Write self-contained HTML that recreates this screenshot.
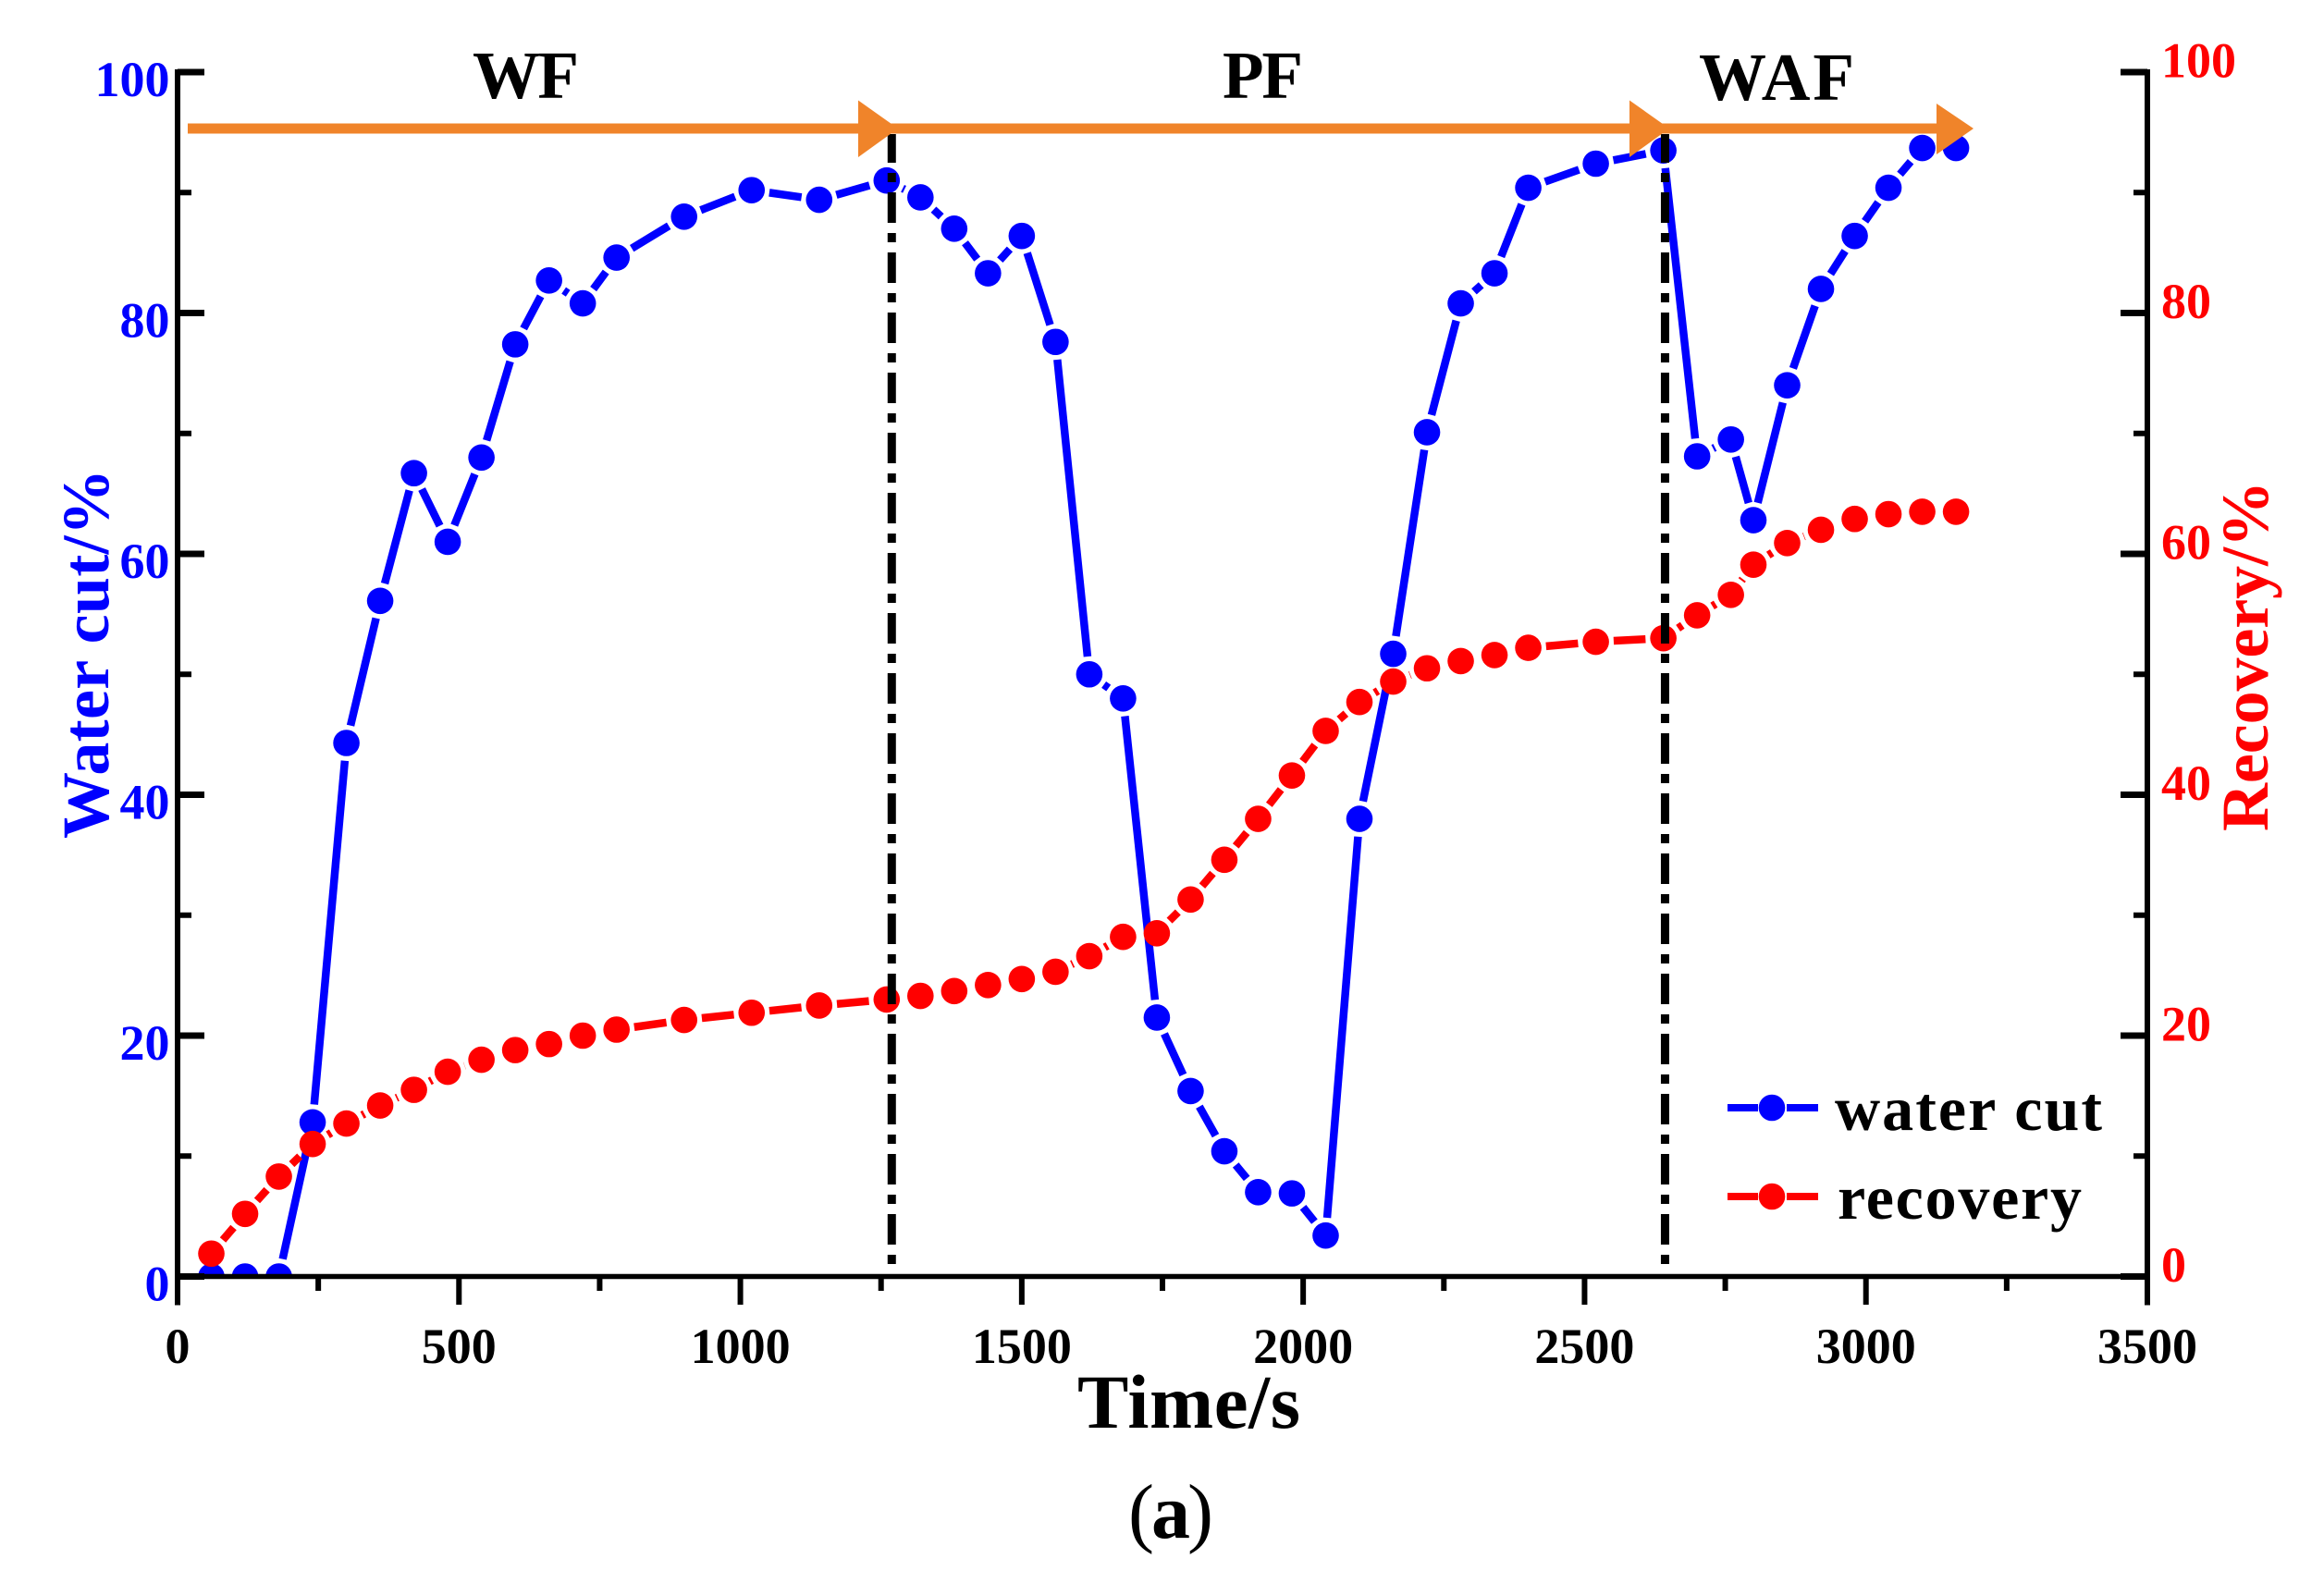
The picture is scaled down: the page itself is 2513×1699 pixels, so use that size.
<!DOCTYPE html>
<html lang="en">
<head>
<meta charset="utf-8">
<title>Water cut and recovery vs time</title>
<style>
html,body{margin:0;padding:0;background:#fff;}
svg{display:block;}
text{font-family:"Liberation Serif",serif;font-weight:bold;}
</style>
</head>
<body>
<svg id="chart" xmlns="http://www.w3.org/2000/svg" width="2513" height="1699" viewBox="0 0 2513 1699">
  <defs><clipPath id="plot-clip"><rect x="191" y="60" width="2132" height="1320"/></clipPath></defs>
  <rect x="0" y="0" width="2513" height="1699" fill="#fff"/>
  <g id="grid-layer"></g>
  <g id="series-layer" clip-path="url(#plot-clip)"></g>
  <g id="overlay-layer"></g>
  <g id="axis-layer"></g>
  <text x="511" y="106" font-size="73" textLength="115" fill="#000">WF</text>
  <text x="1322" y="106" font-size="73" textLength="87" fill="#000">PF</text>
  <text x="1837" y="108" font-size="73" textLength="168" fill="#000">WAF</text>
  <text x="1165" y="1544" font-size="83" textLength="241" fill="#000">Time/s</text>
  <text x="1264.5" y="1663" font-size="84" text-anchor="middle" letter-spacing="-3" fill="#000"><tspan font-weight="normal">(</tspan>a<tspan font-weight="normal">)</tspan></text>
  <text transform="translate(117,907) rotate(-90)" font-size="72" textLength="400" fill="#0000ff">Water cut/%</text>
  <text transform="translate(2452,899) rotate(-90)" font-size="72" textLength="379" fill="#ff0000">Recovery/%</text>
  <g id="legend-layer">
    <g>
      <rect x="1868" y="1194" width="33" height="8" fill="#0000ff"/>
      <rect x="1932" y="1194" width="34" height="8" fill="#0000ff"/>
      <circle cx="1916" cy="1198" r="14.3" fill="#0000ff"/>
      <text x="1984" y="1222" font-size="68" textLength="289" lengthAdjust="spacing" fill="#000">water cut</text>
    </g>
    <g>
      <rect x="1868" y="1290" width="33" height="8" fill="#ff0000"/>
      <rect x="1932" y="1290" width="34" height="8" fill="#ff0000"/>
      <circle cx="1916" cy="1294" r="14.3" fill="#ff0000"/>
      <text x="1987" y="1318" font-size="68" textLength="264" lengthAdjust="spacing" fill="#000">recovery</text>
    </g>
  </g>
</svg>
<script>
const timeValues = [60,120,180,240,300,360,420,480,540,600,660,720,780,900,1020,1140,1260,1320,1380,1440,1500,1560,1620,1680,1740,1800,1860,1920,1980,2040,2100,2160,2220,2280,2340,2400,2520,2640,2700,2760,2800,2860,2920,2980,3040,3100,3160];
const waterCutValues = [0,0,0,12.8,44.3,56.1,66.7,61,68,77.4,82.7,80.8,84.6,88,90.2,89.4,91,89.6,87,83.3,86.4,77.6,50,48,21.5,15.4,10.4,7,6.9,3.4,38,51.7,70.1,80.8,83.3,90.4,92.4,93.5,68.1,69.5,62.8,74,82,86.4,90.4,93.7,93.7];
const recoveryValues = [1.9,5.2,8.3,11,12.7,14.2,15.5,17,18,18.8,19.3,20,20.5,21.3,21.9,22.5,23,23.3,23.7,24.2,24.7,25.3,26.6,28.2,28.5,31.3,34.6,38,41.6,45.3,47.7,49.4,50.5,51.1,51.6,52.2,52.7,53,54.9,56.6,59.1,60.9,62,62.9,63.3,63.5,63.5];
const xTickLabels = [0,500,1000,1500,2000,2500,3000,3500];
const xMinorTicks = [250,750,1250,1750,2250,2750,3250];
const yTickLabels = [0,20,40,60,80,100];
const yMinorTicks = [10,30,50,70,90];
const phaseBoundaries = [1269,2643];

const NS = 'http://www.w3.org/2000/svg';
const X0 = 192, X1 = 2322, Y0 = 1380.5, Y1 = 78;
function xScale(v){ return X0 + (v / 3500) * (X1 - X0); }
function yScale(v){ return Y0 - (v / 100) * (Y0 - Y1); }
function make(tag, attrs, parent){
  const el = document.createElementNS(NS, tag);
  for (const k in attrs) el.setAttribute(k, attrs[k]);
  parent.appendChild(el);
  return el;
}
const gridLayer = document.getElementById('grid-layer');
const seriesLayer = document.getElementById('series-layer');
const overlayLayer = document.getElementById('overlay-layer');
const axisLayer = document.getElementById('axis-layer');

function drawSeries(values, color, name){
  const R = 14.3, GAP = 5;
  const g = make('g', {}, seriesLayer);
  
  
  for (let i = 0; i < values.length - 1; i++){
    const ax = xScale(timeValues[i]), ay = yScale(values[i]);
    const bx = xScale(timeValues[i+1]), by = yScale(values[i+1]);
    const d = Math.hypot(bx-ax, by-ay), cut = R + GAP;
    if (d <= 2 * cut) continue;
    const ux = (bx-ax)/d, uy = (by-ay)/d;
    const seg = make('line', {x1: ax+ux*cut, y1: ay+uy*cut, x2: bx-ux*cut, y2: by-uy*cut, stroke: color, 'stroke-width': 8.5}, g);
    
    
  }
  for (let i = 0; i < values.length; i++){
    const c = make('circle', {cx: xScale(timeValues[i]), cy: yScale(values[i]), r: R, fill: color}, g);
    
    
  }
}
drawSeries(waterCutValues, '#0000ff', 'water-cut');
drawSeries(recoveryValues, '#ff0000', 'recovery');

/* phase boundaries */
phaseBoundaries.forEach(function(t){
  const l = make('line', {x1: xScale(t), x2: xScale(t), y1: 1367, y2: 145, stroke: '#000', 'stroke-width': 9, 'stroke-dasharray': '10 11 33 11'}, overlayLayer);
  
  
});

/* phase arrows */
const arrowBar = make('rect', {x: 203, y: 133.5, width: 1900, height: 11, fill: '#f0842a'}, overlayLayer);


const head1 = make('polygon', {points: '928,108.5 971,139 928,170', fill: '#f0842a'}, overlayLayer);


const head2 = make('polygon', {points: '1762,108.5 1805,139 1762,170', fill: '#f0842a'}, overlayLayer);


const head3 = make('polygon', {points: '2094,112 2134,139 2094,167', fill: '#f0842a'}, overlayLayer);



/* axes */
const AXW = 6, MAJ = 30, MIN = 15;
const axisLeft = make('line', {x1: X0, x2: X0, y1: Y1-3, y2: Y0+MAJ+1, stroke: '#000', 'stroke-width': AXW}, axisLayer);


const axisRight = make('line', {x1: X1, x2: X1, y1: Y1-3, y2: Y0+MAJ+1, stroke: '#000', 'stroke-width': AXW}, axisLayer);


const axisBottom = make('line', {x1: X0, x2: X1, y1: Y0, y2: Y0, stroke: '#000', 'stroke-width': 5.5}, axisLayer);



yTickLabels.forEach(function(v){
  const y = yScale(v);
  const a = make('line', {x1: X0, x2: X0+MAJ-1, y1: y, y2: y, stroke: '#000', 'stroke-width': 7}, axisLayer);
  
  
  const b = make('line', {x1: X1, x2: X1-MAJ+1, y1: y, y2: y, stroke: '#000', 'stroke-width': 7}, axisLayer);
  
  
  const lt = make('text', {x: 183.5, y: y+26, 'font-size': 54, 'text-anchor': 'end', fill: '#0000ff'}, axisLayer);
  lt.textContent = v;
  
  
  const rt = make('text', {x: 2337, y: y+5.5, 'font-size': 54, 'text-anchor': 'start', fill: '#ff0000'}, axisLayer);
  rt.textContent = v;
  
  
});
yMinorTicks.forEach(function(v){
  const y = yScale(v);
  const a = make('line', {x1: X0, x2: X0+MIN, y1: y, y2: y, stroke: '#000', 'stroke-width': 6}, axisLayer);
  
  
  const b = make('line', {x1: X1, x2: X1-MIN, y1: y, y2: y, stroke: '#000', 'stroke-width': 6}, axisLayer);
  
  
});
xTickLabels.forEach(function(v){
  const x = xScale(v);
  const t = make('line', {x1: x, x2: x, y1: Y0, y2: 1411, stroke: '#000', 'stroke-width': 6}, axisLayer);
  
  
  const lab = make('text', {x: x, y: 1474, 'font-size': 54, 'text-anchor': 'middle', fill: '#000'}, axisLayer);
  lab.textContent = v;
  
  
});
xMinorTicks.forEach(function(v){
  const x = xScale(v);
  const t = make('line', {x1: x, x2: x, y1: Y0, y2: 1396, stroke: '#000', 'stroke-width': 6}, axisLayer);
  
  
});
</script>
</body>
</html>
